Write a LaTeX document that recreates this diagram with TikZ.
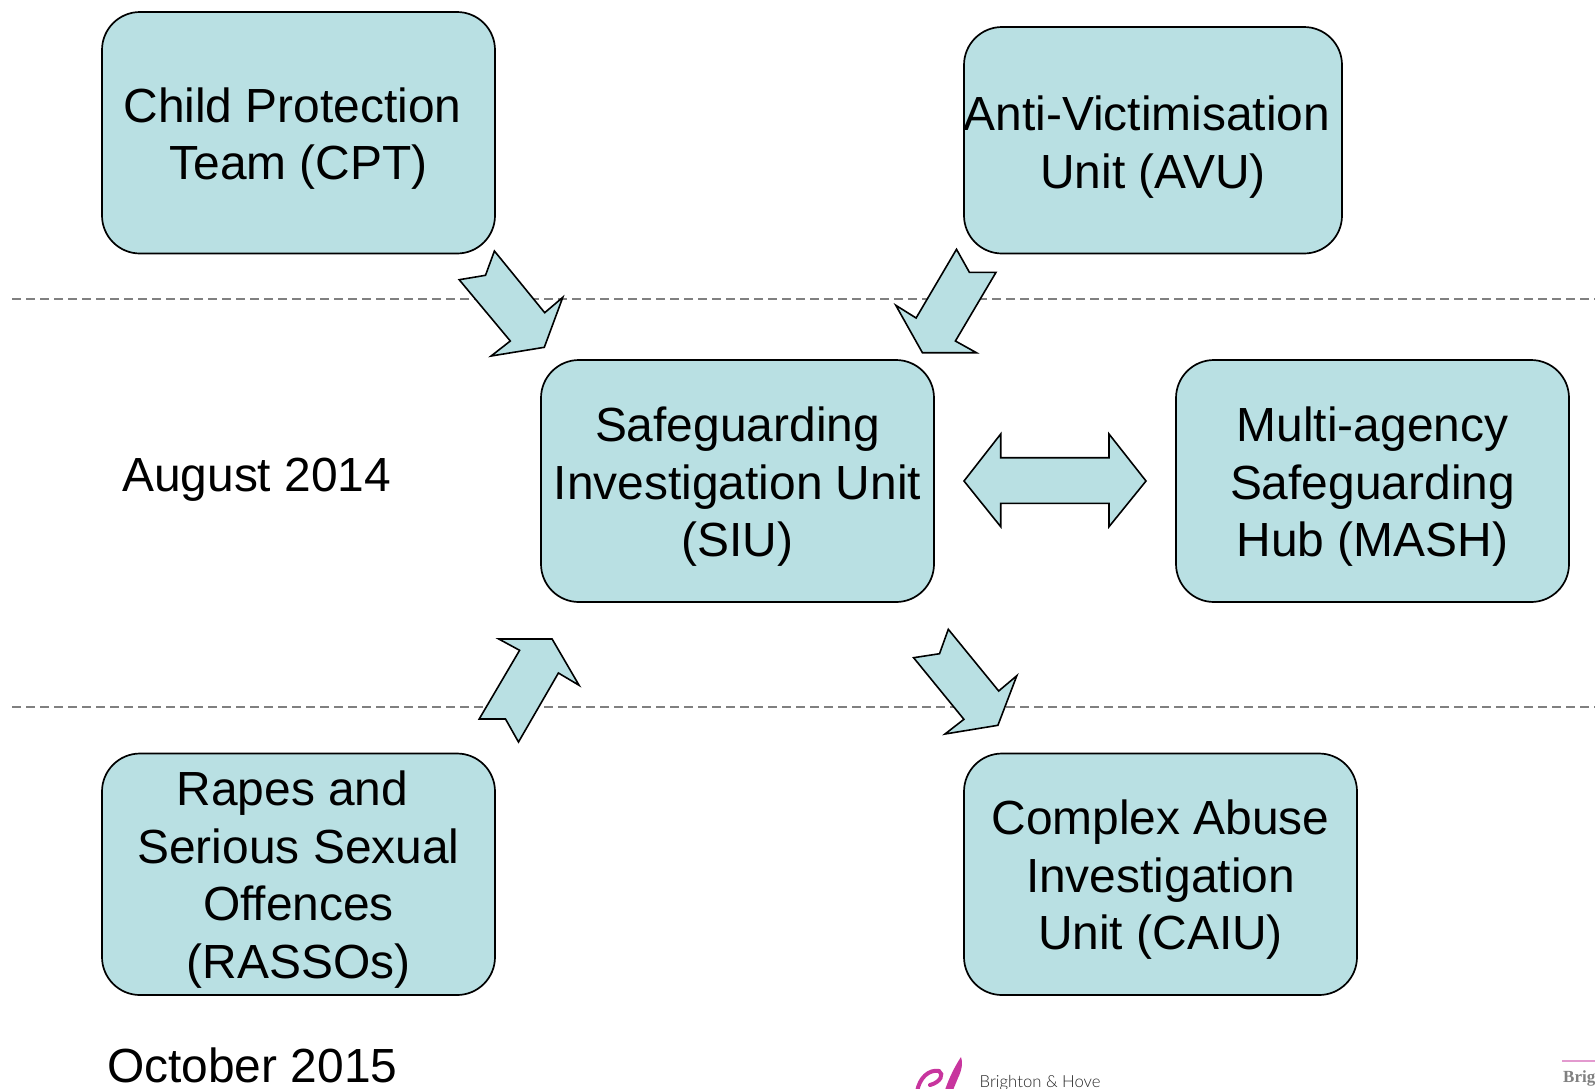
\documentclass[tikz,border=0pt]{standalone}
\usepackage{fontspec}
\setmainfont{Liberation Sans}
\newfontfamily\logofont{Lato Light}
\newfontfamily\crestfont{Liberation Serif}
\definecolor{boxfill}{HTML}{B9E0E3}
\definecolor{rulegray}{HTML}{808080}
\definecolor{logopink}{HTML}{C8359E}
\tikzset{
  x=1pt,y=-1pt,
  unitbox/.style={draw=black,line width=1.7pt,fill=boxfill,rounded corners=38pt},
  unitlabel/.style={align=center,inner sep=0pt,text=black,font=\fontsize{47.9}{57.5}\selectfont},
  blockarrow/.style={draw=black,line width=1.6pt,fill=boxfill,line join=miter},
  period/.style={anchor=base west,inner sep=0pt,font=\fontsize{47.9}{57.5}\selectfont},
  timeline/.style={draw=rulegray,line width=1.2pt,dash pattern=on 9pt off 5pt}
}
\begin{document}
\begin{tikzpicture}
\useasboundingbox (0,0) rectangle (1595,1088);
\clip (0,0) rectangle (1595,1088);
\fill[white] (0,0) rectangle (1595,1088);
% time lines
\coordinate (la) at (12,299); \coordinate (lb) at (1595,299);
\coordinate (lc) at (12,707); \coordinate (ld) at (1595,707);
\draw[timeline] (la) -- (lb);
\draw[timeline] (lc) -- (ld);
% boxes
\draw[unitbox] (102,12) rectangle (495,253.5);
\draw[unitbox] (964,27) rectangle (1342,253.5);
\draw[unitbox] (541,360) rectangle (934,602);
\draw[unitbox] (1176,360) rectangle (1569,602);
\draw[unitbox] (102,753.5) rectangle (495,995);
\draw[unitbox] (964,753.5) rectangle (1357,995);
% labels
\node[unitlabel] (cpt) at (298.5,138.5) {Child Protection\kern12pt\\Team (CPT)};
\node[unitlabel] (avu) at (1153,147) {Anti-Victimisation\kern12pt\\Unit (AVU)};
\node[unitlabel] (siu) at (737.5,487) {Safeguarding\\Investigation Unit\\(SIU)};
\node[unitlabel] (mash) at (1372.5,487) {Multi-agency\\Safeguarding\\Hub (MASH)};
\node[unitlabel] (rasso) at (298.5,879.5) {Rapes and\kern12pt\\Serious Sexual\\Offences\\(RASSOs)};
\node[unitlabel] (caiu) at (1160.5,880) {Complex Abuse\\Investigation\\Unit (CAIU)};
% block arrows
\draw[blockarrow] (494.4,251) -- (544.7,312.7) -- (562.8,297.3) -- (544.3,347.3) -- (491.1,356) -- (510.3,341) -- (459.2,279.7) -- (485.5,275.3) -- cycle;
\draw[blockarrow] (956.5,249.3) -- (969.4,272.3) -- (996,272.3) -- (955.4,341) -- (976.4,352.7) -- (922.4,352.7) -- (895.8,305.3) -- (916.1,318) -- cycle;
\draw[blockarrow] (498.8,639) -- (552.1,639) -- (579.1,685.3) -- (558.4,673) -- (518.5,742) -- (505.5,719) -- (479.2,719) -- (519.6,650.3) -- cycle;
\draw[blockarrow] (948.3,629.3) -- (998.7,691) -- (1016.8,675.7) -- (997.9,725.3) -- (945,734) -- (963.9,719.3) -- (913.6,657.7) -- (939.5,653.7) -- cycle;
\draw[blockarrow] (964,481) -- (1000.7,434) -- (1000.7,457.7) -- (1109,457.7) -- (1109,434) -- (1146,481) -- (1109,526.7) -- (1109,503.3) -- (1000.7,503.3) -- (1000.7,526.7) -- cycle;
% dates
\node[period] (aug) at (122,491) {August 2014};
\node[period] (oct) at (107,1082) {October 2015};
% logos
\fill[logopink] (961,1057) .. controls (963,1062) and (962,1070) .. (958,1078) -- (953,1090) -- (945,1090) .. controls (949,1078) and (955,1066) .. cycle;
\draw[logopink,line width=4pt,line cap=round] (917,1092) .. controls (919,1078) and (929,1069) .. (939,1071) .. controls (944,1074) and (941,1082) .. (930,1085);
\node[anchor=base west,inner sep=0pt,font=\logofont\fontsize{16.7}{20}\selectfont,text=black!85] (bh) at (979.5,1087) {Brighton \& Hove};
\draw[logopink!50,line width=1.2pt] (1562,1061) -- (1595,1061);
\node[anchor=base west,inner sep=0pt,font=\crestfont\bfseries\fontsize{17}{20}\selectfont,text=black!50] (br) at (1563,1082) {Brig};
\end{tikzpicture}
\end{document}
